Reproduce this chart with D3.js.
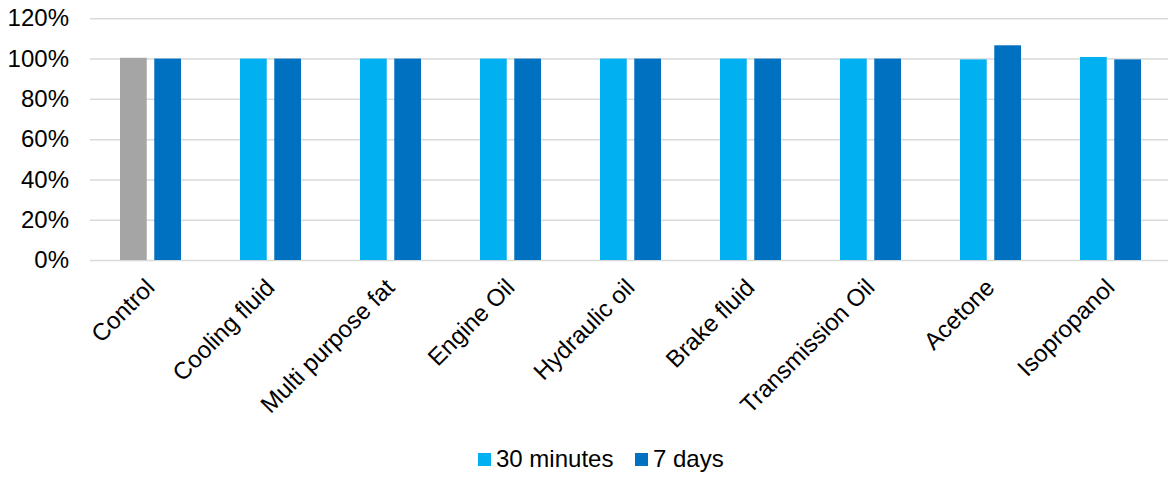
<!DOCTYPE html>
<html>
<head>
<meta charset="utf-8">
<script src="https://cdn.jsdelivr.net/npm/d3@7"></script>
<style>
  html, body { margin: 0; padding: 0; background: #fff; }
  text { font-family: "Liberation Sans", Arial, sans-serif; fill: #000; }
</style>
</head>
<body>
<svg id="chart" width="1168" height="477"></svg>
<script>
const categories = ["Control", "Cooling fluid", "Multi purpose fat", "Engine Oil", "Hydraulic oil", "Brake fluid", "Transmission Oil", "Acetone", "Isopropanol"];
const seriesNames = ["30 minutes", "7 days"];
const values30min = [1.004, 1.0, 1.0, 1.0, 1.0, 1.0, 1.0, 0.996, 1.008];
const values7days = [1.0, 1.0, 1.0, 1.0, 1.0, 1.0, 1.0, 1.066, 0.996];
const yTicks = [0, 0.2, 0.4, 0.6, 0.8, 1.0, 1.2];

const colors = { "30 minutes": "#00B0F0", "7 days": "#0070C0", control: "#A5A5A5" };

const svg = d3.select("#chart");
const fontSize = 24;

const x = d3.scaleBand().domain(categories).range([90, 1170]).paddingInner(0).paddingOuter(0);
const xs = d3.scaleBand().domain(seriesNames).range([30, 91]).paddingInner(0.22).paddingOuter(0);
const y = d3.scaleLinear().domain([0, 1.2]).range([260, 18.3]);

// gridlines
const yAxis = d3.axisLeft(y).tickValues(yTicks).tickSize(-1078).tickFormat(d3.format(".0%")).tickPadding(21);
const gy = svg.append("g").attr("transform", "translate(90,0)").call(yAxis);
gy.select(".domain").remove();
gy.selectAll(".tick line").attr("stroke", "#D9D9D9").attr("stroke-width", 1.5);
gy.selectAll(".tick text").style("font-size", fontSize + "px").attr("fill", "#000");

// bars
const data = [];
categories.forEach((c, i) => {
  data.push({ cat: c, s: "30 minutes", v: values30min[i] });
  data.push({ cat: c, s: "7 days", v: values7days[i] });
});
svg.append("g").selectAll("rect").data(data).join("rect")
  .attr("x", d => x(d.cat) + xs(d.s))
  .attr("width", xs.bandwidth())
  .attr("y", d => y(d.v))
  .attr("height", d => y(0) - y(d.v))
  .attr("fill", d => (d.cat === "Control" && d.s === "30 minutes") ? colors.control : colors[d.s]);

// x labels
const xAxis = d3.axisBottom(x).tickSize(0).tickPadding(0);
const gx = svg.append("g").attr("transform", "translate(0,260)").call(xAxis);
gx.select(".domain").remove();
gx.selectAll(".tick text")
  .style("font-size", fontSize + "px")
  .attr("fill", "#000")
  .attr("text-anchor", "end")
  .attr("dy", null)
  .attr("y", 0)
  .attr("transform", "translate(6,29) rotate(-45)");

// legend
const legendX = [478, 635];
const lg = svg.append("g").selectAll("g").data(seriesNames).join("g")
  .attr("transform", (d, i) => `translate(${legendX[i]},453)`);
lg.append("rect").attr("width", 13).attr("height", 13).attr("fill", d => colors[d]);
lg.append("text").attr("x", 18).attr("y", 13.5).style("font-size", fontSize + "px").text(d => d);
</script>
</body>
</html>
